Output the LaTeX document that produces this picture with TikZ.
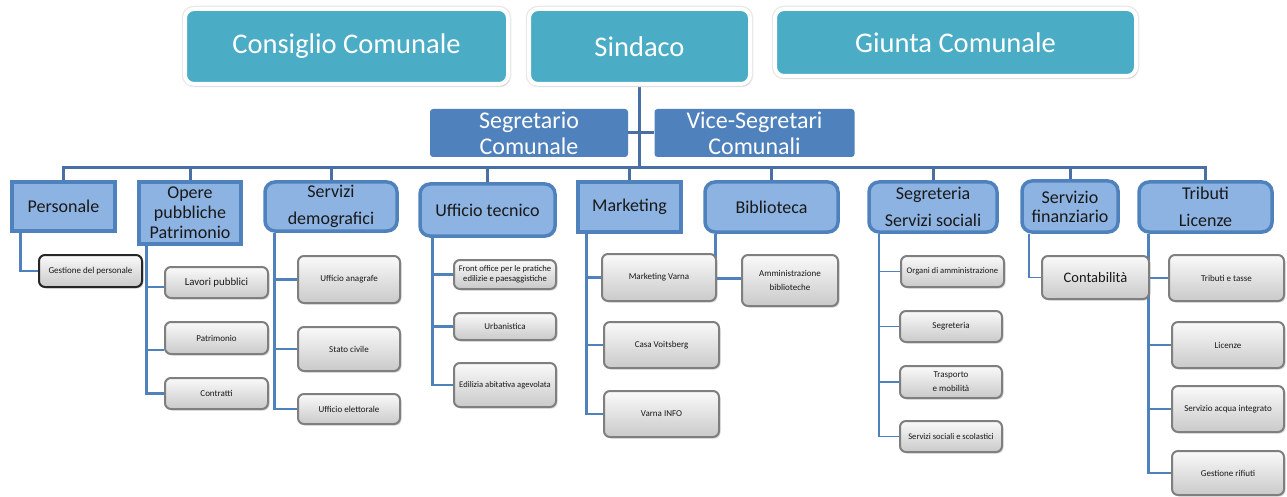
\documentclass[tikz,border=0pt]{standalone}
\usepackage{fontspec}
\setmainfont{Carlito}
\usetikzlibrary{shadows,backgrounds}
\definecolor{topc}{HTML}{4BACC6}
\definecolor{segc}{HTML}{4F81BD}
\definecolor{deptc}{HTML}{8DB3E2}
\definecolor{deptb}{HTML}{4F81BD}
\definecolor{busc}{HTML}{4A6FA5}
\definecolor{subb}{HTML}{7F7F7F}
\begin{document}
\begin{tikzpicture}[x=1pt,y=-1pt,
  topbox/.style={draw=white, line width=4pt, fill=topc, rounded corners=9pt, text=white,
    font=\fontsize{28.5}{32}\selectfont, inner sep=0pt,
    preaction={draw=gray!18, line width=6.5pt},
    drop shadow={shadow xshift=1.5pt, shadow yshift=-2.5pt, opacity=0.25}},
  segbox/.style={fill=segc, rounded corners=3pt, text=white, font=\fontsize{24}{26}\selectfont,
    align=center, inner sep=0pt},
  dept/.style={draw=deptb, line width=3.5pt, fill=deptc, font=\fontsize{18}{20}\selectfont,
    align=center, inner sep=0pt, text=black!90,
    drop shadow={shadow xshift=1.5pt, shadow yshift=-1.5pt, opacity=0.3}},
  deptr/.style={dept, rounded corners=10pt},
  subbox/.style={draw=subb, line width=2pt, rounded corners=6pt, top color=gray!4, bottom color=gray!42,
    font=\fontsize{9}{13}\selectfont, align=center, inner sep=0pt, text=black!90,
    drop shadow={shadow xshift=1.5pt, shadow yshift=-1.5pt, opacity=0.3}},
  conn/.style={draw=segc, line width=2.5pt},
  thinc/.style={draw=segc, line width=1.2pt},
  bus/.style={draw=busc, line width=3pt}]
\useasboundingbox (0,0) rectangle (1287,497);
% top row
\node[topbox, minimum width=323pt, minimum height=75pt] (cons) at (346.5,46.5) {Consiglio Comunale};
\node[topbox, minimum width=221pt, minimum height=75pt] (sind) at (639.5,46.5) {Sindaco};
\node[topbox, minimum width=361pt, minimum height=67pt] (giun) at (955.5,42.5) {Giunta Comunale};
\node[segbox, minimum width=198pt, minimum height=48pt] (segr) at (529,133) {Segretario\\Comunale};
\node[segbox, minimum width=200pt, minimum height=48pt] (vice) at (754.5,133) {Vice-Segretari\\Comunali};
\coordinate (busy) at (0,168);
% departments
\node[dept, minimum width=103pt, minimum height=49pt] (pers) at (63.5,206.5) {Personale};
\node[dept, minimum width=102pt, minimum height=62pt] (opere) at (190,213) {Opere\\pubbliche\\Patrimonio};
\node[deptr, minimum width=132pt, minimum height=49pt, font=\fontsize{18}{27}\selectfont] (sdem) at (331,206.5) {Servizi\\demografici};
\node[deptr, minimum width=135pt, minimum height=52pt] (utec) at (487.5,210) {Ufficio tecnico};
\node[dept, minimum width=103pt, minimum height=50pt] (mark) at (629.5,207) {Marketing};
\node[deptr, minimum width=133pt, minimum height=50pt] (bibl) at (771.5,207) {Biblioteca};
\node[deptr, minimum width=128pt, minimum height=50pt, font=\fontsize{18}{27}\selectfont] (sss) at (933,207) {Segreteria\\Servizi sociali};
\node[deptr, minimum width=96pt, minimum height=51pt, font=\fontsize{18}{19}\selectfont] (sfin) at (1070,206.5) {Servizio\\finanziario};
\node[deptr, minimum width=133pt, minimum height=50pt, font=\fontsize{18}{27}\selectfont] (trib) at (1205.5,207) {Tributi\\Licenze};
% sub boxes
\node[subbox, draw=black!85, minimum width=103pt, minimum height=32pt] (gdp) at (90.5,271) {Gestione del personale};
\node[subbox, minimum width=103pt, minimum height=31pt, font=\fontsize{10.8}{12}\selectfont] (lav) at (216.5,282.5) {Lavori pubblici};
\node[subbox, minimum width=103pt, minimum height=32pt] (patr) at (216.5,338) {Patrimonio};
\node[subbox, minimum width=103pt, minimum height=31pt] (contr) at (216.5,393.5) {Contratti};
\node[subbox, minimum width=102pt, minimum height=47pt] (uana) at (349,279.5) {Ufficio anagrafe};
\node[subbox, minimum width=102pt, minimum height=44pt] (stato) at (349,349) {Stato civile};
\node[subbox, minimum width=102pt, minimum height=30pt] (uelet) at (349,409) {Ufficio elettorale};
\node[subbox, minimum width=102pt, minimum height=29pt, font=\fontsize{8.6}{10.5}\selectfont] (front) at (505,274.5) {Front office per le pratiche\\edilizie e paesaggistiche};
\node[subbox, minimum width=102pt, minimum height=27pt] (urb) at (505,326.5) {Urbanistica};
\node[subbox, minimum width=102pt, minimum height=44pt, font=\fontsize{8.6}{13}\selectfont] (edil) at (505,385) {Edilizia abitativa agevolata};
\node[subbox, minimum width=114pt, minimum height=47pt] (mvar) at (659,277.5) {Marketing Varna};
\node[subbox, minimum width=115pt, minimum height=46pt] (casa) at (661.5,345) {Casa Voitsberg};
\node[subbox, minimum width=115pt, minimum height=46pt] (vinfo) at (661.5,414) {Varna INFO};
\node[subbox, minimum width=96pt, minimum height=51pt, font=\fontsize{9}{14}\selectfont] (ammb) at (790,280.5) {Amministrazione\\biblioteche};
\node[subbox, minimum width=103pt, minimum height=31pt, font=\fontsize{8.6}{13}\selectfont] (organi) at (952.5,271.5) {Organi di amministrazione};
\node[subbox, minimum width=102pt, minimum height=31pt] (segre) at (951,326.5) {Segreteria};
\node[subbox, minimum width=102pt, minimum height=32pt, font=\fontsize{9}{14}\selectfont] (trasp) at (951,382) {Trasporto\\e mobilità};
\node[subbox, minimum width=102pt, minimum height=31pt, font=\fontsize{8.6}{13}\selectfont] (sssc) at (951,436.5) {Servizi sociali e scolastici};
\node[subbox, minimum width=107pt, minimum height=43pt, font=\fontsize{14.5}{16}\selectfont] (conta) at (1095.5,277.5) {Contabilità};
\node[subbox, minimum width=115pt, minimum height=46pt] (tt) at (1226.5,278) {Tributi e tasse};
\node[subbox, minimum width=112pt, minimum height=46pt] (lic) at (1228,345) {Licenze};
\node[subbox, minimum width=112pt, minimum height=46pt] (sai) at (1228,409) {Servizio acqua integrato};
\node[subbox, minimum width=112pt, minimum height=44pt] (gr) at (1228,473) {Gestione rifiuti};
% connectors
\begin{scope}[on background layer]
\draw[bus] (sind.south) -- (sind.south |- busy);
\draw[bus] (segr.east) -- (vice.west);
\draw[bus] (pers.north) -- (pers.north |- busy) -| (trib.north);
\foreach \d in {opere,sdem,utec,mark,bibl,sss,sfin}
  \draw[bus] (\d.north) -- (\d.north |- busy);
\draw[conn] ([xshift=10pt]pers.south west) |- (gdp.west);
\coordinate (ov) at ([xshift=9pt]opere.south west);
\draw[conn] (ov) |- (contr.west);
\draw[thinc] (ov |- 0,287) -- ([yshift=-4.5pt]lav.west);
\draw[thinc] (ov |- 0,350) -- ([yshift=-12pt]patr.west);
\coordinate (sv) at ([xshift=11pt]sdem.south west);
\draw[conn] (sv) |- (uelet.west);
\draw[conn] (sv |- uana.west) -- (uana.west);
\draw[conn] (sv |- stato.west) -- (stato.west);
\coordinate (uv) at ([xshift=14pt]utec.south west);
\draw[conn] (uv) |- (edil.west);
\draw[conn] (uv |- front.west) -- (front.west);
\draw[conn] (uv |- urb.west) -- (urb.west);
\coordinate (mv) at ([xshift=10pt]mark.south west);
\draw[conn] (mv) |- (vinfo.west);
\draw[conn] (mv |- mvar.west) -- (mvar.west);
\draw[conn] (mv |- casa.west) -- (casa.west);
\draw[conn] ([xshift=12pt]bibl.south west) |- ([yshift=2pt]ammb.west);
\coordinate (gv) at ([xshift=12pt]sss.south west);
\draw[thinc, line width=1.8pt] (gv) |- (sssc.west);
\draw[thinc, line width=1.8pt] (gv |- organi.west) -- (organi.west);
\draw[thinc, line width=1.8pt] (gv |- segre.west) -- (segre.west);
\draw[thinc, line width=1.8pt] (gv |- trasp.west) -- (trasp.west);
\draw[thinc, line width=1.8pt] ([xshift=9pt]sfin.south west) |- (conta.west);
\coordinate (tv) at ([xshift=11pt]trib.south west);
\draw[conn] (tv) |- (gr.west);
\draw[conn] (tv |- tt.west) -- (tt.west);
\draw[conn] (tv |- lic.west) -- (lic.west);
\draw[conn] (tv |- sai.west) -- (sai.west);
\end{scope}
\end{tikzpicture}
\end{document}
